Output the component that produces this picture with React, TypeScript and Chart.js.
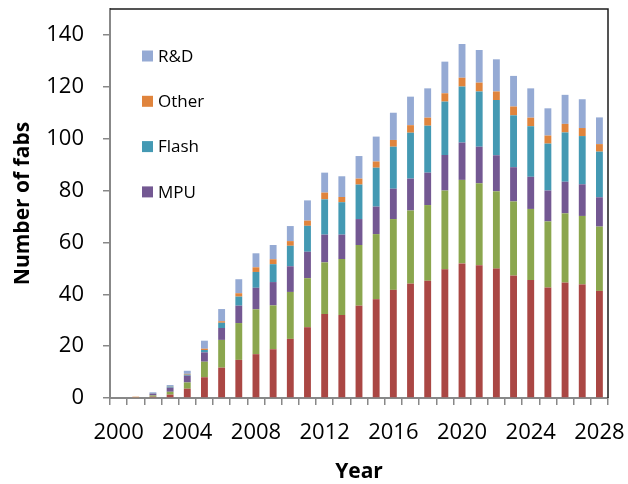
import React, { useEffect, useRef } from 'react';
import { Chart, registerables } from 'chart.js';

Chart.register(...registerables);

// Years on the category axis
const years = [
  '2000', '2001', '2002', '2003', '2004', '2005', '2006', '2007', '2008', '2009',
  '2010', '2011', '2012', '2013', '2014', '2015', '2016', '2017', '2018', '2019',
  '2020', '2021', '2022', '2023', '2024', '2025', '2026', '2027', '2028',
];

// Only every fourth year is labelled
const yearTickLabels = ['2000', '2004', '2008', '2012', '2016', '2020', '2024', '2028'];

// Fabs per segment, stacked bottom to top
const dramFabs = [
  0, 0, 0.5, 1.3, 3.6, 8.0, 11.7, 14.7, 16.9, 18.8,
  22.8, 27.3, 32.4, 32.0, 35.6, 38.1, 41.7, 44.1, 45.2, 49.6,
  51.9, 51.2, 49.9, 47.2, 45.5, 42.6, 44.5, 43.8, 41.3,
];
const foundryFabs = [
  0, 0, 0.5, 1.1, 2.4, 6.0, 10.7, 14.2, 17.3, 16.9,
  18.1, 18.9, 19.9, 21.6, 23.4, 25.1, 27.3, 28.2, 29.2, 30.4,
  32.2, 31.6, 29.8, 28.6, 27.4, 25.5, 26.7, 26.4, 24.8,
];
const mpuFabs = [
  0, 0, 0.7, 1.6, 2.6, 3.6, 4.6, 6.7, 8.3, 9.0,
  9.9, 10.2, 10.7, 9.4, 10.0, 10.6, 11.7, 12.3, 12.5, 13.7,
  14.4, 14.1, 13.9, 13.2, 12.4, 11.9, 12.2, 12.2, 11.3,
];
const flashFabs = [
  0, 0, 0.1, 0.4, 0.4, 0.9, 2.0, 3.5, 6.1, 6.9,
  7.9, 10.0, 13.6, 12.5, 13.3, 15.0, 16.2, 17.7, 18.1, 20.6,
  21.6, 21.3, 21.3, 20.0, 19.5, 18.1, 19.0, 18.6, 17.6,
];
const otherFabs = [
  0, 0.5, 0, 0.1, 0.3, 0.5, 0.6, 1.3, 1.8, 1.9,
  1.8, 2.0, 2.6, 2.0, 2.3, 2.4, 2.6, 2.9, 3.1, 3.2,
  3.4, 3.4, 3.3, 3.4, 3.3, 3.1, 3.3, 3.1, 2.9,
];
const rdFabs = [
  0, 0, 0.4, 0.5, 1.2, 3.1, 4.7, 5.4, 5.4, 5.5,
  5.8, 7.8, 7.7, 8.0, 8.7, 9.6, 10.5, 11.0, 11.3, 12.2,
  13.0, 12.6, 12.4, 11.8, 11.3, 10.5, 11.2, 11.1, 10.3,
];

// Y axis ticks
const yTicks = [0, 20, 40, 60, 80, 100, 120, 140];
const yMax = 150;

// Legend entries, top to bottom
const legendItems = ['R&D', 'Other', 'Flash', 'MPU'];

const FONT = '"Open Sans", "DejaVu Sans", sans-serif';
const AXIS_GRAY = '#888888';

const frameAndLegend = {
  id: 'frameAndLegend',
  afterDraw(chart: any) {
    const { ctx, chartArea } = chart;
    const { left, top, right, bottom } = chartArea;
    ctx.save();
    // dark frame on the top and right edges of the plot
    ctx.strokeStyle = '#1c1c1c';
    ctx.lineWidth = 1.5;
    ctx.beginPath();
    ctx.moveTo(left, top);
    ctx.lineTo(right, top);
    ctx.lineTo(right, bottom);
    ctx.stroke();

    // legend inside the plot, upper left
    const boxX = left + 32;
    ctx.font = `17px ${FONT}`;
    ctx.textBaseline = 'middle';
    ctx.textAlign = 'left';
    legendItems.forEach((name, i) => {
      const ds = chart.data.datasets.find((d: any) => d.label === name);
      if (!ds) return;
      const cy = top + 47 + i * 45.3;
      ctx.fillStyle = ds.backgroundColor;
      ctx.fillRect(boxX, cy - 5.5, 11, 11);
      ctx.fillStyle = '#000000';
      ctx.fillText(name, boxX + 16, cy + 1);
    });
    ctx.restore();
  },
};

export default function App() {
  const canvasRef = useRef<HTMLCanvasElement | null>(null);

  useEffect(() => {
    if (!canvasRef.current) return;
    const bar = (label: string, data: number[], color: string) => ({
      label,
      data,
      backgroundColor: color,
      borderWidth: 0,
      barPercentage: 0.4,
      categoryPercentage: 1,
    });

    const chart = new Chart(canvasRef.current, {
      type: 'bar',
      data: {
        labels: years,
        datasets: [
          bar('DRAM', dramFabs, '#AA4744'),
          bar('Foundry', foundryFabs, '#8BA64E'),
          bar('MPU', mpuFabs, '#735892'),
          bar('Flash', flashFabs, '#4499B3'),
          bar('Other', otherFabs, '#E0843C'),
          bar('R&D', rdFabs, '#95AAD4'),
        ],
      },
      plugins: [frameAndLegend],
      options: {
        responsive: false,
        animation: false,
        layout: { padding: { top: 9, right: 20, left: 0, bottom: 0 } },
        plugins: {
          legend: { display: false },
          tooltip: { enabled: false },
        },
        scales: {
          x: {
            stacked: true,
            grid: {
              offset: true,
              drawOnChartArea: false,
              drawTicks: true,
              tickLength: 7,
              color: AXIS_GRAY,
              lineWidth: 1.5,
            },
            border: { display: true, color: AXIS_GRAY, width: 2 },
            ticks: {
              autoSkip: false,
              maxRotation: 0,
              padding: 15,
              color: '#000000',
              font: { family: FONT, size: 22 },
              callback: (_v: any, i: number) =>
                yearTickLabels.includes(years[i]) ? years[i] : '',
            },
            title: {
              display: true,
              text: 'Year',
              color: '#000000',
              font: { family: FONT, size: 21, weight: 'bold' },
              padding: { top: 0, bottom: -1 },
            },
            afterFit: (s: any) => {
              s.height = 86;
              s.paddingLeft = 0;
              s.paddingRight = 0;
            },
          },
          y: {
            stacked: true,
            min: 0,
            max: yMax,
            grid: {
              drawOnChartArea: false,
              drawTicks: true,
              tickLength: 7,
              color: AXIS_GRAY,
              lineWidth: 1.5,
            },
            border: { display: true, color: AXIS_GRAY, width: 2 },
            ticks: {
              stepSize: 20,
              padding: 19,
              color: '#000000',
              font: { family: FONT, size: 22 },
            },
            afterBuildTicks: (s: any) => {
              s.ticks = yTicks.map((v) => ({ value: v }));
            },
            title: {
              display: true,
              text: 'Number of fabs',
              color: '#000000',
              font: { family: FONT, size: 21, weight: 'bold' },
              padding: { top: 10, bottom: 0 },
            },
            afterFit: (s: any) => {
              s.width = 110;
              s.paddingTop = 0;
              s.paddingBottom = 0;
            },
          },
        },
      },
    } as any);

    return () => chart.destroy();
  }, []);

  return (
    <div style={{ position: 'fixed', left: 0, top: 0, width: 628, height: 484, background: '#ffffff' }}>
      <canvas ref={canvasRef} width={628} height={484} />
    </div>
  );
}
